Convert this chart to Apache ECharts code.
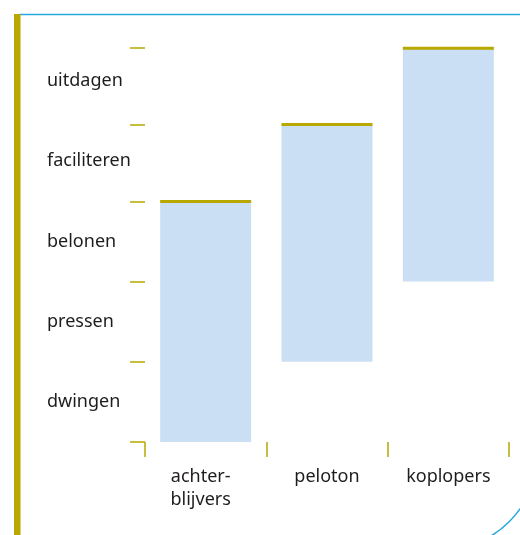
<!DOCTYPE html>
<html>
<head>
<meta charset="utf-8">
<script src="https://cdn.jsdelivr.net/npm/echarts@6/dist/echarts.min.js"></script>
<style>
html,body{margin:0;padding:0;background:#fff;}
#chart{width:520px;height:535px;}
</style>
</head>
<body>
<div id="chart"></div>
<script>
// Categories (x axis)
const groups = ['achter-\nblijvers', 'peloton', 'koplopers'];
// Range of each group on the style scale (bottom, top)
const rangeStart = [0, 1, 2];
const rangeEnd = [3, 3.96, 4.91];
// Style levels (y axis), bottom to top, placed at band centres
const levels = ['dwingen', 'pressen', 'belonen', 'faciliteren', 'uitdagen'];
const levelPositions = [0.5, 1.5, 2.5, 3.5, 4.5];
// Tick marks on the level scale
const levelTicks = [0, 1, 2, 3, 3.96, 4.91];

const olive = '#b8a800';
const barFill = '#cadff3';
const blue = '#29a8e0';
const textColor = '#1f1c1d';
const font = 'Noto Sans';

const chart = echarts.init(document.getElementById('chart'), null, {renderer: 'canvas'});

const barData = groups.map((g, i) => [i, rangeStart[i], rangeEnd[i]]);

chart.setOption({
  animation: false,
  backgroundColor: '#ffffff',
  grid: {left: 145, right: 11, top: 41, bottom: 93, containLabel: false},
  xAxis: {
    type: 'category',
    data: groups.map((g, i) => i === 0 ? {value: g, textStyle: {padding: [0, 10, 0, 0]}} : g),
    boundaryGap: true,
    axisLine: {show: false},
    axisTick: {show: true, length: 15, lineStyle: {color: olive, width: 1.5}},
    axisLabel: {margin: 23, color: textColor, fontFamily: font, fontSize: 18, lineHeight: 23},
    splitLine: {show: false}
  },
  yAxis: {
    type: 'value',
    min: 0, max: 5,
    axisLine: {show: false},
    splitLine: {show: false},
    axisTick: {show: true, length: 15, customValues: levelTicks, lineStyle: {color: olive, width: 1.5}},
    axisLabel: {
      customValues: levelPositions,
      formatter: v => levels[levelPositions.indexOf(v)],
      align: 'left', margin: 98,
      color: textColor, fontFamily: font, fontSize: 18
    }
  },
  graphic: [
    {type: 'rect', z: 10, shape: {x: 14, y: 14, width: 6.5, height: 521}, style: {fill: olive}},
    {type: 'line', z: 9, shape: {x1: 20, y1: 14.5, x2: 520, y2: 14.5}, style: {stroke: blue, lineWidth: 1.5}},
    {type: 'arc', z: 9, shape: {cx: 438, cy: 450, r: 101, startAngle: 0, endAngle: Math.PI / 2}, style: {stroke: blue, lineWidth: 1.5, fill: 'none'}}
  ],
  series: [{
    type: 'custom',
    data: barData,
    encode: {x: 0, y: [1, 2]},
    renderItem: function (params, api) {
      const x = api.value(0);
      const p0 = api.coord([x, api.value(1)]);
      const p1 = api.coord([x, api.value(2)]);
      const w = api.size([1, 0])[0] * 0.75;
      return {
        type: 'group',
        children: [
          {type: 'rect', shape: {x: p0[0] - w / 2, y: p1[1], width: w, height: p0[1] - p1[1]}, style: {fill: barFill}},
          {type: 'rect', shape: {x: p0[0] - w / 2, y: p1[1] - 1.5, width: w, height: 3}, style: {fill: olive}}
        ]
      };
    }
  }]
});
</script>
</body>
</html>
